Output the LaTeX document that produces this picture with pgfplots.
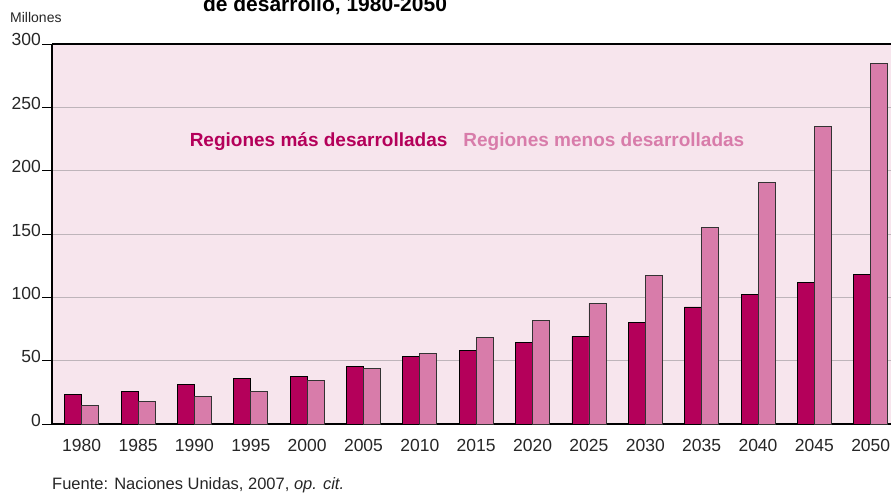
\documentclass[border=0pt]{standalone}
\usepackage{pgfplots}
\pgfplotsset{compat=1.18}
\usepackage{pgfplotstable}
\usepackage{fontspec}
\setmainfont{Liberation Sans}
\definecolor{darkm}{RGB}{180,0,90}
\definecolor{lightm}{RGB}{216,124,170}
\definecolor{bgm}{RGB}{247,229,237}
\definecolor{gridc}{RGB}{190,180,186}
\pgfplotstableread{
x dev less
0 23 14.8
1 26 18
2 31 22
3 36 26
4 37.6 34.4
5 45.5 43.9
6 53.4 55.5
7 58.2 68.2
8 64.5 81.5
9 69.2 95.3
10 80.5 117.4
11 92.4 155.3
12 102.6 190.8
13 111.8 234.7
14 118.4 284.8
}\datatable
\begin{document}
\begin{tikzpicture}[x=1pt,y=1pt]
\useasboundingbox (-52,-69) rectangle (839,424);
\begin{axis}[
  at={(0,0)}, anchor=south west,
  scale only axis, width=839pt, height=380pt,
  ybar=0pt, bar width=17pt,
  xmin=-0.527, xmax=14.36, ymin=0, ymax=300,
  axis x line*=bottom, axis y line*=left,
  axis line style={line width=1.6pt, black},
  axis background/.style={fill=bgm},
  xtick={0,...,14},
  xticklabels={1980,1985,1990,1995,2000,2005,2010,2015,2020,2025,2030,2035,2040,2045,2050},
  x tick style={draw=none},
  ytick={0,50,...,300},
  y tick style={black, line width=0.8pt},
  tick align=outside, major tick length=10pt,
  ymajorgrids, grid style={gridc, line width=1pt},
  /pgf/number format/assume math mode=true,
  tick label style={font=\fontsize{17.5}{20}\selectfont, text=black!85},
  yticklabel style={anchor=base east, inner sep=1pt, yshift=-2pt},
  xticklabel style={anchor=base, yshift=-17pt},
  legend style={draw=none, fill=none, at={(rel axis cs:0.1437,0.747)}, anchor=west,
    legend columns=2, font=\fontsize{19}{22}\selectfont\bfseries,
    /tikz/every odd column/.append style={column sep=12pt}},
  legend image code/.code={},
]
\addplot[fill=darkm, draw=black, line width=0.8pt] table[x=x, y=dev] {\datatable};
\addplot[fill=lightm, draw=black!80, line width=0.8pt] table[x=x, y=less] {\datatable};
\legend{\textcolor{darkm}{Regiones más desarrolladas}, \textcolor{lightm}{Regiones menos desarrolladas}}
\draw[line width=1.6pt] (rel axis cs:0,1) -- (rel axis cs:1.01,1);
\end{axis}
\node[anchor=base west, inner sep=0pt, font=\fontsize{14}{16}\selectfont, text=black!85] at (-42,401) {Millones};
\node[anchor=base, font=\fontsize{21}{24}\selectfont\bfseries] at (273,412) {de desarrollo, 1980-2050};
\node[anchor=base west, inner sep=0pt, font=\fontsize{16.5}{19}\selectfont, text=black!85] at (0,-65) {Fuente: Naciones Unidas, 2007, \textit{op. cit.}};
\end{tikzpicture}
\end{document}
